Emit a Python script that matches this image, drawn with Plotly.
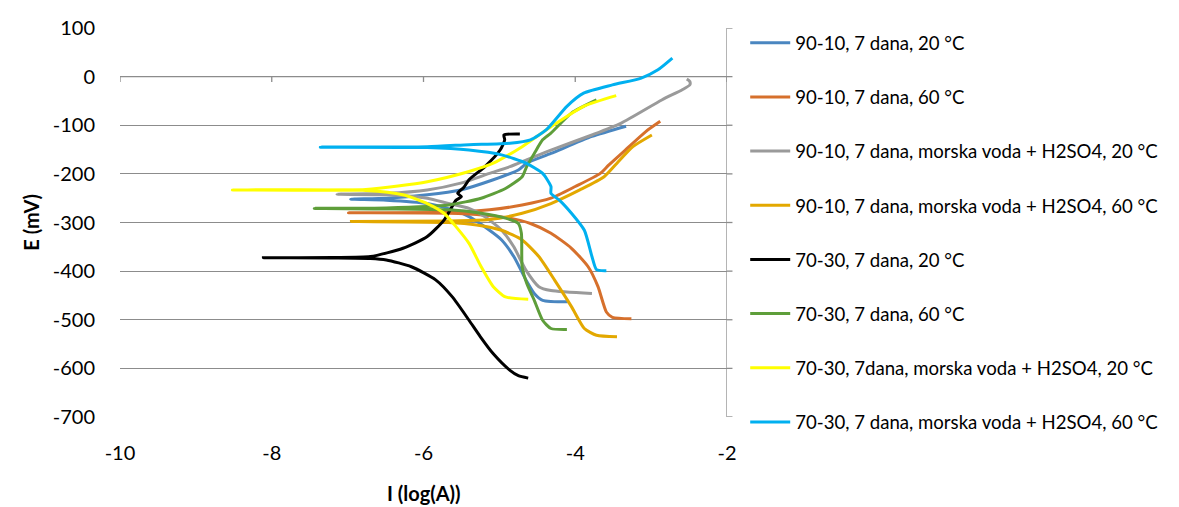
import plotly.graph_objects as go

# ---- data (log I, E in mV) ----
names = [
    "90-10, 7 dana, 20 °C",
    "90-10, 7 dana, 60 °C",
    "90-10, 7 dana, morska voda + H2SO4, 20 °C",
    "90-10, 7 dana, morska voda + H2SO4, 60 °C",
    "70-30, 7 dana, 20 °C",
    "70-30, 7 dana, 60 °C",
    "70-30, 7dana, morska voda + H2SO4, 20 °C",
    "70-30, 7 dana, morska voda + H2SO4, 60 °C",
]
colors = ["#4A86C0", "#D6702C", "#9A9A9A", "#E3A800", "#000000", "#5E9E3A", "#FFFF00", "#00B0F0"]

blue_x = [-4.10, -4.43, -4.54, -4.65, -4.81, -4.97, -5.13, -5.40, -5.62, -5.95, -6.49, -6.96,
          -6.49, -5.95, -5.51, -5.08, -4.75, -4.64, -4.32, -3.78, -3.33]
blue_y = [-463, -460, -446, -418, -370, -336, -316, -288, -274, -261, -254, -252,
          -250, -243, -233, -212, -192, -178, -158, -123, -102]

orange_x = [-3.26, -3.51, -3.59, -3.70, -3.83, -4.05, -4.32, -4.59, -4.86, -5.19, -5.67, -6.99,
            -5.67, -5.13, -4.70, -4.32, -4.00, -3.67, -3.56, -3.34, -3.07, -2.88]
orange_y = [-498, -495, -484, -432, -391, -353, -322, -302, -291, -285, -281, -280,
            -279, -274, -264, -250, -226, -199, -182, -151, -113, -92]

gray_x = [-3.78, -4.32, -4.48, -4.65, -4.81, -4.97, -5.19, -5.40, -5.67, -5.95, -6.49, -7.14,
          -6.49, -5.95, -5.51, -5.13, -4.86, -4.64, -4.32, -3.78, -3.40, -2.86, -2.59, -2.49, -2.49, -2.53]
gray_y = [-446, -440, -432, -398, -350, -316, -288, -271, -261, -250, -243, -242,
          -240, -233, -219, -199, -185, -171, -151, -120, -96, -48, -27, -17, -10, -5]

gold_x = [-3.45, -3.72, -3.88, -4.05, -4.27, -4.48, -4.70, -4.97, -5.30, -5.67, -6.95,
          -5.67, -5.13, -4.70, -4.32, -3.94, -3.62, -3.45, -3.24, -2.99]
gold_y = [-535, -532, -518, -473, -419, -370, -336, -316, -305, -300, -298,
          -297, -294, -281, -261, -233, -206, -178, -144, -120]

black_x = [-4.62, -4.75, -4.86, -5.08, -5.25, -5.40, -5.62, -5.84, -6.16, -6.49, -6.70, -7.20, -8.11,
           -7.20, -6.70, -6.27, -5.95, -5.73, -5.57, -5.50, -5.55, -5.47, -5.40, -5.19, -4.99,
           -4.93, -4.94, -4.73]
black_y = [-620, -615, -604, -570, -535, -501, -453, -418, -391, -377, -374, -373, -372.5,
           -372, -370, -353, -329, -295, -254, -247, -240, -228, -212, -185, -151,
           -130, -120, -118]

green_x = [-4.11, -4.32, -4.43, -4.54, -4.64, -4.70, -4.71, -4.75, -4.92, -5.24, -5.67, -6.49, -7.44,
           -6.49, -5.67, -5.24, -4.92, -4.70, -4.64, -4.54, -4.43, -4.32, -4.05, -3.72]
green_y = [-520, -518, -501, -460, -425, -391, -322, -302, -291, -281, -274, -272, -271,
           -270, -264, -250, -230, -206, -185, -158, -130, -116, -75, -48]

yellow_x = [-4.62, -4.92, -5.08, -5.24, -5.40, -5.57, -5.73, -5.95, -6.27, -6.76, -8.52,
            -6.76, -5.95, -5.40, -5.08, -4.70, -4.32, -3.89, -3.46]
yellow_y = [-458, -453, -432, -391, -343, -309, -281, -261, -243, -234, -233,
            -232, -216, -195, -178, -144, -103, -61, -39]

cyan_x = [-3.59, -3.72, -3.78, -3.88, -4.05, -4.21, -4.32, -4.32, -4.43, -4.65, -4.97, -5.40, -5.95, -7.36,
          -5.95, -5.40, -4.86, -4.59, -4.38, -4.11, -3.89, -3.51, -3.13, -2.91, -2.72]
cyan_y = [-399, -397, -370, -316, -281, -254, -240, -226, -199, -178, -161, -151, -146, -145,
          -144, -140, -137, -130, -109, -61, -34, -17, -3, 14, 38]

series_x = [blue_x, orange_x, gray_x, gold_x, black_x, green_x, yellow_x, cyan_x]
series_y = [blue_y, orange_y, gray_y, gold_y, black_y, green_y, yellow_y, cyan_y]

x_ticks = [-10, -8, -6, -4, -2]
y_ticks = [100, 0, -100, -200, -300, -400, -500, -600, -700]

FONT = "Lato"
GRID = "#8C8C8C"

fig = go.Figure()
for i, (nm, xs, ys, c) in enumerate(zip(names, series_x, series_y, colors)):
    fig.add_trace(go.Scatter(
        x=xs, y=ys, mode="lines", name=nm, legendgroup=f"g{i}",
        line=dict(color=c, width=3, shape="spline", smoothing=0.6),
    ))

shapes = []
# horizontal axis line at E = 0 with tick marks
shapes.append(dict(type="line", xref="x", yref="y", x0=x_ticks[0], x1=x_ticks[-1], y0=0, y1=0,
                   line=dict(color=GRID, width=1.3), layer="below"))
for t in x_ticks:
    shapes.append(dict(type="line", xref="x", yref="y", x0=t, x1=t, y0=0, y1=-11,
                       line=dict(color=GRID, width=1.3), layer="below"))
# vertical axis line at right edge with tick marks
shapes.append(dict(type="line", xref="x", yref="y", x0=x_ticks[-1], x1=x_ticks[-1],
                   y0=y_ticks[-1], y1=y_ticks[0], line=dict(color=GRID, width=1.3), layer="below"))
for t in y_ticks:
    shapes.append(dict(type="line", xref="paper", yref="y", x0=1, x1=1.009, y0=t, y1=t,
                       line=dict(color=GRID, width=1.3), layer="below"))

annotations = [
    dict(text="<b>I (log(A))</b>", xref="paper", yref="paper", x=0.5, y=-0.195,
         xanchor="center", yanchor="middle", showarrow=False, font=dict(family=FONT, size=20)),
    dict(text="<b>E (mV)</b>", xref="paper", yref="paper", x=-0.148, y=0.5, textangle=-90,
         xanchor="center", yanchor="middle", showarrow=False, font=dict(family=FONT, size=20)),
]

fig.update_layout(
    width=1179, height=507,
    margin=dict(l=120, r=452, t=28, b=90),
    paper_bgcolor="white", plot_bgcolor="white",
    font=dict(family=FONT, size=20, color="#000000"),
    shapes=shapes, annotations=annotations,
    showlegend=True,
    legend=dict(x=1.03, xanchor="left", y=1.01, yanchor="top",
                font=dict(family=FONT, size=18.6, color="#000000"),
                tracegroupgap=27, itemwidth=40, bgcolor="rgba(0,0,0,0)", maxheight=500),
    xaxis=dict(range=[-10, -2], tickvals=x_ticks, ticktext=[str(v) for v in x_ticks],
               showgrid=False, zeroline=False, showline=False, ticks="", automargin=False,
               ticklabelstandoff=22),
    yaxis=dict(range=[-700, 100], tickvals=y_ticks, ticktext=[str(v) for v in y_ticks],
               showgrid=True, gridcolor=GRID, gridwidth=1.3, zeroline=False, showline=False, ticks="",
               automargin=False, ticklabelstandoff=24),
)

fig.write_html("out.html", config={"displayModeBar": False},
               post_script="document.body.style.margin='0';document.body.style.overflow='hidden';")
